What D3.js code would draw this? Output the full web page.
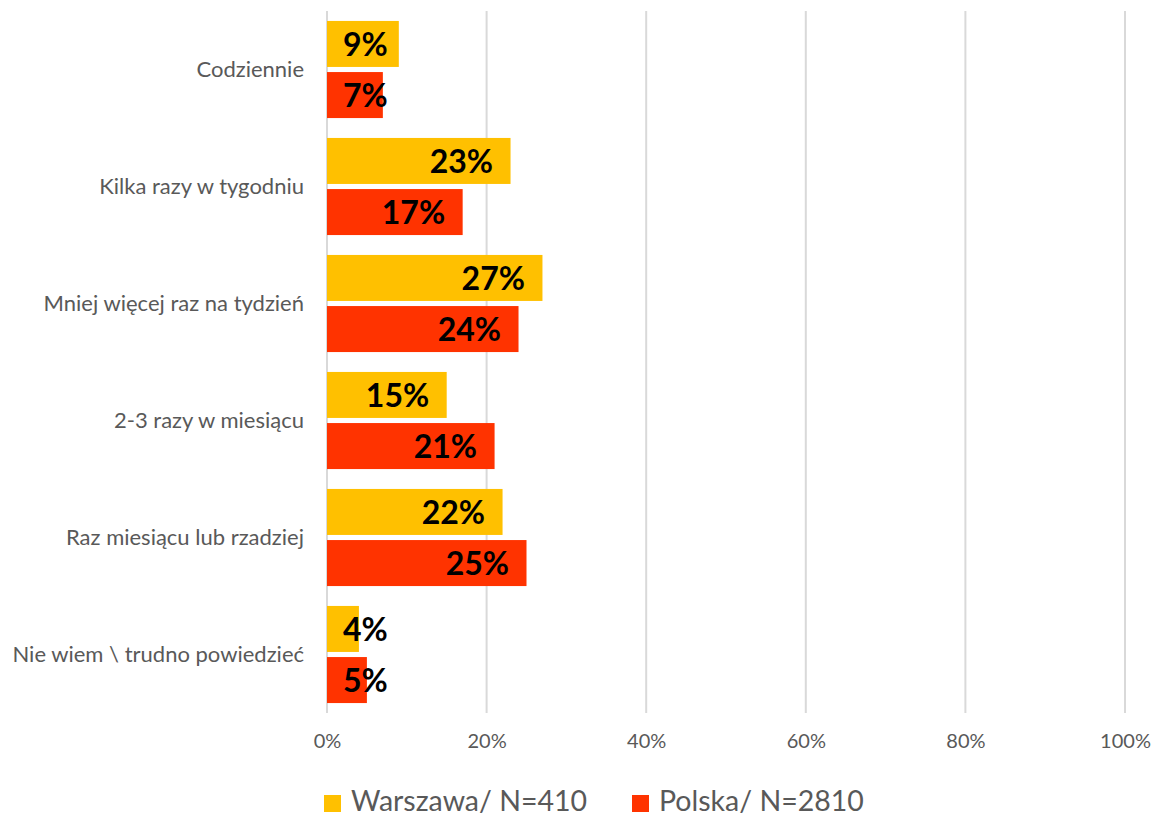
<!DOCTYPE html>
<html><head><meta charset="utf-8">
<script src="https://cdn.jsdelivr.net/npm/d3@7"></script>
<style>body{margin:0;background:#fff}svg{display:block}</style>
</head><body>
<svg id="c" width="1156" height="816"></svg>
<script>
const categories = ["Codziennie","Kilka razy w tygodniu","Mniej więcej raz na tydzień","2-3 razy w miesiącu","Raz miesiącu lub rzadziej","Nie wiem \\ trudno powiedzieć"];
const seriesNames = ["Warszawa/ N=410","Polska/ N=2810"];
const warszawa = [9,23,27,15,22,4];
const polska = [7,17,24,21,25,5];
const colors = ["#FFC000","#FF3300"];
const ticks = [0,20,40,60,80,100];

const svg = d3.select("#c");
const x = d3.scaleLinear().domain([0,100]).range([327,1125]);
const y = d3.scaleBand().domain(categories).range([11,713]).paddingInner(0.17).paddingOuter(0.085);
const ySub = d3.scaleBand().domain([0,1]).range([0,y.bandwidth()]).paddingInner(0.1);
const font = "Lato, 'Open Sans', sans-serif";

// gridlines
svg.append("g").selectAll("line").data(ticks).join("line")
  .attr("x1",d=>x(d)).attr("x2",d=>x(d)).attr("y1",11).attr("y2",713)
  .attr("stroke","#d9d9d9").attr("stroke-width",2);

// x axis labels
const xAxis = d3.axisBottom(x).tickValues(ticks).tickFormat(d=>d+"%").tickSize(0).tickPadding(0);
const gx = svg.append("g").attr("transform","translate(0,734)").call(xAxis);
gx.select(".domain").remove();
gx.selectAll("text").attr("font-family",font).attr("font-size",20).attr("fill","#595959");

// y axis labels
const yAxis = d3.axisLeft(y).tickSize(0).tickPadding(0);
const gy = svg.append("g").attr("transform","translate(304,0)").call(yAxis);
gy.select(".domain").remove();
gy.selectAll("text").attr("font-family",font).attr("font-size",22).attr("fill","#595959");

const data = [];
categories.forEach((c,i)=>{
  data.push({c, s:0, v:warszawa[i]});
  data.push({c, s:1, v:polska[i]});
});

svg.append("g").selectAll("rect").data(data).join("rect")
  .attr("x",x(0)).attr("y",d=>y(d.c)+ySub(d.s))
  .attr("width",d=>x(d.v)-x(0)).attr("height",ySub.bandwidth())
  .attr("fill",d=>colors[d.s]);

const lbl = svg.append("g").selectAll("text").data(data).join("text")
  .attr("y",d=>y(d.c)+ySub(d.s)+ySub.bandwidth()/2)
  .attr("dy","0.38em")
  .attr("font-family",font).attr("font-weight","bold").attr("font-size",32)
  .attr("fill","#000").text(d=>d.v+"%");
lbl.each(function(d){
  const w = this.getComputedTextLength();
  let right = x(d.v) - 17.5;
  if (right - w < x(0) + 16) right = x(0) + 16 + w;
  d3.select(this).attr("x", right).attr("text-anchor","end");
});

// legend
const leg = svg.append("g");
const legX = [324, 632];
seriesNames.forEach((n,i)=>{
  leg.append("rect").attr("x",legX[i]).attr("y",795).attr("width",17).attr("height",17).attr("fill",colors[i]);
  leg.append("text").attr("x",legX[i]+27).attr("y",811)
    .attr("font-family",font).attr("font-size",28.5).attr("fill","#595959").text(n);
});
</script>
</body></html>
